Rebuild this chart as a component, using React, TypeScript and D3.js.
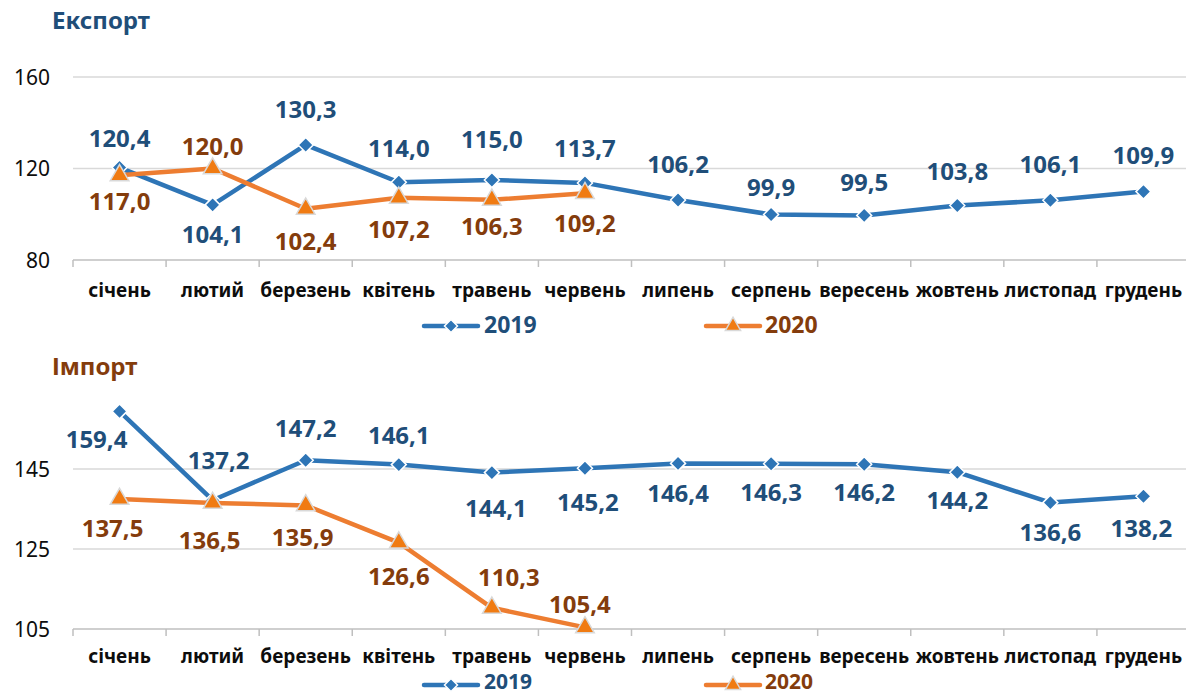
import * as d3 from "d3";

const months = [
  "січень", "лютий", "березень", "квітень", "травень", "червень",
  "липень", "серпень", "вересень", "жовтень", "листопад", "грудень",
];
const years = ["2019", "2020"];

const export2019 = [120.4, 104.1, 130.3, 114.0, 115.0, 113.7, 106.2, 99.9, 99.5, 103.8, 106.1, 109.9];
const export2020 = [117.0, 120.0, 102.4, 107.2, 106.3, 109.2];
const import2019 = [159.4, 137.2, 147.2, 146.1, 144.1, 145.2, 146.4, 146.3, 146.2, 144.2, 136.6, 138.2];
const import2020 = [137.5, 136.5, 135.9, 126.6, 110.3, 105.4];

const exportTicks = [80, 120, 160];
const importTicks = [105, 125, 145];

// label placement (px from the point), like the hand-moved labels in the original
const export2019Dy = [-21, 38, -27, -25, -32, -26, -27, -18, -24, -26, -27, -28];
const export2020Dy = [35, -14, 41, 40, 35, 39];
const import2019Dy = [37, -31, -23, -21, 44, 43, 39, 37, 37, 37, 38, 41];
const import2019Dx = [-23, 6, 0, 0, 4, 3, 0, 0, 0, 0, 0, -2];
const import2020Dy = [38, 46, 41, 42, -22, -14];
const import2020Dx = [-7, -3, -3, 0, 17, -5];

const FONT = "'Noto Sans', 'DejaVu Sans', sans-serif";
const BLUE = "#2E75B6";
const BLUE_TEXT = "#1F4E79";
const ORANGE = "#ED7D31";
const ORANGE_MARK = "#F07B12";
const BROWN = "#843C0C";

const fmt = (v: number) => d3.format(".1f")(v).replace(".", ",");

const diamond = (r: number) => `M0,${-r}L${r},0L0,${r}L${-r},0Z`;
const triangle = d3.symbol(d3.symbolTriangle, 150)() as string;

interface Series {
  values: number[];
  dx?: number[];
  dy: number[];
}

interface PanelProps {
  title: string;
  titleColor: string;
  titleY: number;
  ticks: number[];
  yTop: number;
  yBottom: number;
  s2019: Series;
  s2020: Series;
  catY: number;
  legendY: number;
  legendSize: number;
  legendDy: number;
}

function Panel({
  title, titleColor, titleY, ticks, yTop, yBottom, s2019, s2020, catY, legendY, legendSize, legendDy,
}: PanelProps) {
  const x = d3.scaleBand<string>().domain(months).range([73, 1190]).padding(0);
  const y = d3.scaleLinear([ticks[0], ticks[ticks.length - 1]], [yBottom, yTop]);
  const cx = (i: number) => x(months[i])! + x.bandwidth() / 2;
  const line = d3
    .line<number>()
    .x((d, i) => cx(i))
    .y((d) => y(d));

  return (
    <g>
      <text x={52} y={titleY} fontFamily={FONT} fontSize={24} fontWeight="bold" fill={titleColor}>
        {title}
      </text>
      {ticks.map((t, i) => (
        <g key={t}>
          <line
            x1={73}
            x2={1186}
            y1={y(t)}
            y2={y(t)}
            stroke={i === 0 ? "#BFBFBF" : "#D9D9D9"}
            strokeWidth={1.5}
          />
          <text x={50} y={y(t)} dy="0.36em" textAnchor="end" fontFamily={FONT} fontSize={21} fill="#0D0D0D">
            {t}
          </text>
        </g>
      ))}
      {d3.range(months.length + 1).map((i) => (
        <line
          key={i}
          x1={73 + i * x.bandwidth()}
          x2={73 + i * x.bandwidth()}
          y1={yBottom}
          y2={yBottom + 7}
          stroke="#BFBFBF"
          strokeWidth={1.5}
        />
      ))}
      {months.map((m, i) => (
        <text
          key={m}
          x={cx(i)}
          y={catY}
          textAnchor="middle"
          fontFamily={FONT}
          fontSize={19}
          fontWeight="bold"
          fill="#0D0D0D"
        >
          {m}
        </text>
      ))}

      <path d={line(s2019.values)!} fill="none" stroke={BLUE} strokeWidth={4.5} strokeLinejoin="round" />
      {s2019.values.map((v, i) => (
        <path key={i} d={diamond(7.5)} transform={`translate(${cx(i)},${y(v)})`} fill={BLUE} stroke="#fff" strokeWidth={1.5} />
      ))}
      <path d={line(s2020.values)!} fill="none" stroke={ORANGE} strokeWidth={4.5} strokeLinejoin="round" />
      {s2020.values.map((v, i) => (
        <path key={i} d={triangle} transform={`translate(${cx(i)},${y(v)})`} fill={ORANGE_MARK} stroke="#D9D9D9" strokeWidth={1.5} />
      ))}

      {s2019.values.map((v, i) => (
        <text
          key={i}
          x={cx(i) + (s2019.dx ? s2019.dx[i] : 0)}
          y={y(v) + s2019.dy[i]}
          textAnchor="middle"
          fontFamily={FONT}
          fontSize={24}
          fontWeight="bold"
          fill={BLUE_TEXT}
        >
          {fmt(v)}
        </text>
      ))}
      {s2020.values.map((v, i) => (
        <text
          key={i}
          x={cx(i) + (s2020.dx ? s2020.dx[i] : 0)}
          y={y(v) + s2020.dy[i]}
          textAnchor="middle"
          fontFamily={FONT}
          fontSize={24}
          fontWeight="bold"
          fill={BROWN}
        >
          {fmt(v)}
        </text>
      ))}

      {/* legend */}
      <g transform={`translate(0,${legendY})`}>
        <line x1={424} x2={478} stroke={BLUE} strokeWidth={4.5} strokeLinecap="round" />
        <path d={diamond(6.5)} transform="translate(451,0)" fill={BLUE} stroke="#fff" strokeWidth={1.5} />
        <text x={484} y={legendDy} fontFamily={FONT} fontSize={legendSize} fontWeight="bold" fill={BLUE_TEXT}>
          {years[0]}
        </text>
        <line x1={706} x2={760} stroke={ORANGE} strokeWidth={4.5} strokeLinecap="round" />
        <path d={d3.symbol(d3.symbolTriangle, 100)()!} transform="translate(733,0)" fill={ORANGE_MARK} stroke="#D9D9D9" strokeWidth={1.5} />
        <text x={765} y={legendDy} fontFamily={FONT} fontSize={legendSize} fontWeight="bold" fill={BROWN}>
          {years[1]}
        </text>
      </g>
    </g>
  );
}

export default function App() {
  return (
    <svg
      width={1186}
      height={695}
      style={{ position: "absolute", left: 0, top: 0, background: "#fff" }}
    >
      <Panel
        title="Експорт"
        titleColor={BLUE_TEXT}
        titleY={29}
        ticks={exportTicks}
        yTop={77}
        yBottom={260}
        s2019={{ values: export2019, dy: export2019Dy }}
        s2020={{ values: export2020, dy: export2020Dy }}
        catY={297}
        legendY={326}
        legendSize={23}
        legendDy={7}
      />
      <Panel
        title="Імпорт"
        titleColor={BROWN}
        titleY={375}
        ticks={importTicks}
        yTop={469}
        yBottom={629}
        s2019={{ values: import2019, dx: import2019Dx, dy: import2019Dy }}
        s2020={{ values: import2020, dx: import2020Dx, dy: import2020Dy }}
        catY={663}
        legendY={685}
        legendSize={21}
        legendDy={4}
      />
    </svg>
  );
}
